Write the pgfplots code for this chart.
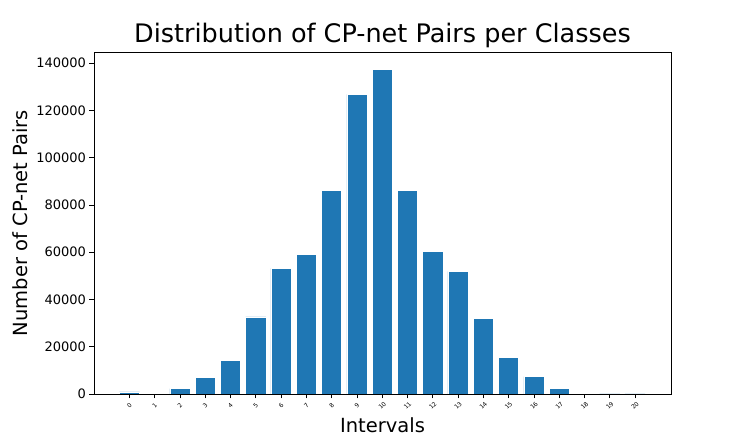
\documentclass[border=0pt]{standalone}
\usepackage{fontspec}
\setmainfont{DejaVu Sans}
\usepackage{pgfplots}
\pgfplotsset{compat=1.18}
\definecolor{mplblue}{HTML}{1F77B4}

\begin{document}
\begin{tikzpicture}
\begin{axis}[
    scale only axis,
    width=577pt,
    height=342pt,
    xmin=-1.4, xmax=21.42,
    ymin=0, ymax=144700,
    xtick={0,...,20},
    ytick={0,20000,...,140000},
    scaled y ticks=false,
    /pgf/number format/.cd, fixed, 1000 sep={}, assume math mode=true,
    /pgfplots/.cd,
    tick align=outside,
    tick pos=left,
    major tick length=4.5pt,
    tick style={black, line width=0.8pt},
    axis line style={black, line width=0.8pt},
    yticklabel style={font=\fontsize{13}{13}\selectfont},
    xticklabel style={font=\fontsize{6}{6}\selectfont, yshift=-7pt, rotate=45, anchor=center},
    title={Distribution of CP-net Pairs per Classes},
    title style={font=\fontsize{25.5}{30}\selectfont, yshift=-5pt},
    xlabel={Intervals},
    ylabel={Number of CP-net Pairs},
    xlabel style={font=\fontsize{19.5}{22}\selectfont, yshift=0pt},
    ylabel style={font=\fontsize{19.5}{22}\selectfont, yshift=2pt},
    ybar,
    bar width=0.8,
    bar shift=0pt,
]
% bar heights
\addplot[fill=mplblue, draw=white, line width=0.6pt] coordinates {
    (0,900) (1,300) (2,2300) (3,7000) (4,14300) (5,32600) (6,53200)
    (7,59100) (8,86000) (9,126800) (10,137400) (11,86200) (12,60300)
    (13,51900) (14,31900) (15,15600) (16,7300) (17,2300) (18,400)
    (19,80) (20,30)
};
\end{axis}
\path (current axis.south west) ++(-94pt,-49pt) rectangle ++(747pt,443pt);
\end{tikzpicture}
\end{document}
